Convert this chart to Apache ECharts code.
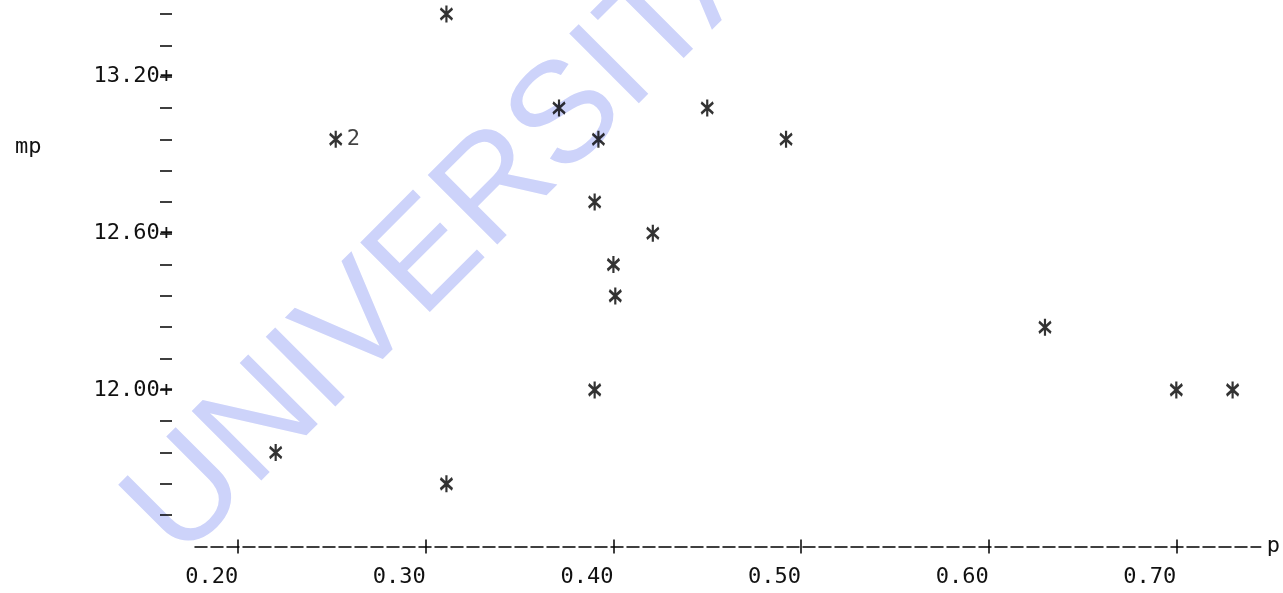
<!DOCTYPE html>
<html>
<head>
<meta charset="utf-8">
<script src="https://cdn.jsdelivr.net/npm/echarts@6/dist/echarts.min.js"></script>
<style>
    html, body { margin: 0; padding: 0; background: #fff; }
    #plotBox { width: 1283px; height: 593px; }
</style>
</head>
<body>
<div id="plotBox"></div>
<script>
// p against mp, line-printer style plot
var pValues  = [0.311, 0.371, 0.450, 0.252, 0.392, 0.492, 0.390, 0.421, 0.400, 0.401, 0.630, 0.390, 0.700, 0.730, 0.220, 0.311];
var mpValues = [13.44, 13.08, 13.08, 12.96, 12.96, 12.96, 12.72, 12.60, 12.48, 12.36, 12.24, 12.00, 12.00, 12.00, 11.76, 11.64];
var counts   = [1, 1, 1, 2, 1, 1, 1, 1, 1, 1, 1, 1, 1, 1, 1, 1];

var xTickValues = [0.20, 0.30, 0.40, 0.50, 0.60, 0.70];
var yTickValues = [11.52, 11.64, 11.76, 11.88, 12.00, 12.12, 12.24, 12.36, 12.48, 12.60, 12.72, 12.84, 12.96, 13.08, 13.20, 13.32, 13.44];
var yLabelValues = [12.00, 12.60, 13.20];

var fontMono = '"DejaVu Sans Mono", "Liberation Mono", monospace';
var ink = '#111';

function loadPlot() {
    var myChart = echarts.init(document.getElementById('plotBox'));
    var seriesData = [];
    $each(pValues, function (i, x) {
        seriesData.push([x, mpValues[i]]);
    });

    var option = {
        animation: false,
        title: {
            text: 'mp',
            left: 10,
            top: 131,
            textStyle: { fontSize: 22, fontWeight: 'normal', fontFamily: fontMono, color: ink }
        },
        graphic: [{
            //扫描件上的水印
            type: 'text',
            x: 152,
            y: 534,
            rotation: Math.PI / 4,
            silent: true,
            z: -10,
            style: {
                text: 'UNIVERSITAS',
                font: '143px "Liberation Sans", Arial, sans-serif',
                fill: '#cdd3fa',
                align: 'left',
                verticalAlign: 'middle',
                textAlign: 'left',
                textVerticalAlign: 'middle'
            }
        }],
        grid: {
            left: 195,
            right: 21,
            top: 14,
            bottom: 46.5,
            containLabel: false
        },
        xAxis: [{
            type: 'value',
            min: 0.177,
            max: 0.745,
            name: 'p',
            nameLocation: 'end',
            nameGap: 6,
            nameTextStyle: { fontSize: 22, fontFamily: fontMono, color: ink },
            splitLine: { show: false },
            axisLine: {
                show: true,
                lineStyle: { color: '#000', width: 1.5, type: [12, 4] }
            },
            axisTick: {
                show: true,
                length: 7,
                customValues: xTickValues,
                lineStyle: { color: '#000', width: 1.5 }
            },
            axisLabel: {
                customValues: xTickValues,
                margin: 20,
                align: 'right',
                fontSize: 22,
                fontFamily: fontMono,
                color: ink,
                formatter: function (v) { return v.toFixed(2); }
            }
        }, {
            //上半截的 + 竖线
            type: 'value',
            position: 'bottom',
            min: 0.177,
            max: 0.745,
            splitLine: { show: false },
            axisLine: { show: false },
            axisLabel: { show: false },
            axisTick: {
                show: true,
                inside: true,
                length: 7,
                customValues: xTickValues,
                lineStyle: { color: '#000', width: 1.5 }
            }
        }],
        yAxis: {
            type: 'value',
            min: 11.40,
            max: 13.44,
            offset: 23,
            splitLine: { show: false },
            axisLine: { show: false },
            axisTick: {
                show: true,
                length: 12,
                customValues: yTickValues,
                lineStyle: { color: '#000', width: 1.5 }
            },
            axisLabel: {
                customValues: yLabelValues,
                margin: -1,
                fontSize: 22,
                fontFamily: fontMono,
                color: ink,
                formatter: function (v) { return v.toFixed(2) + '+'; }
            }
        },
        series: [{
            type: 'scatter',
            xAxisIndex: 0,
            symbol: 'path://M6 0L6 17M1 3L11 14M11 3L1 14',
            symbolSize: [12, 17],
            itemStyle: { color: '#000', borderColor: '#000', borderWidth: 2.6 },
            label: {
                show: true,
                position: 'right',
                distance: 4,
                fontSize: 22,
                fontFamily: fontMono,
                color: ink,
                formatter: function (p) {
                    return counts[p.dataIndex] > 1 ? String(counts[p.dataIndex]) : '';
                }
            },
            data: seriesData
        }]
    };
    myChart.setOption(option);
}

function $each(arr, fn) {
    for (var i = 0; i < arr.length; i++) fn(i, arr[i]);
}

loadPlot();
</script>
</body>
</html>
